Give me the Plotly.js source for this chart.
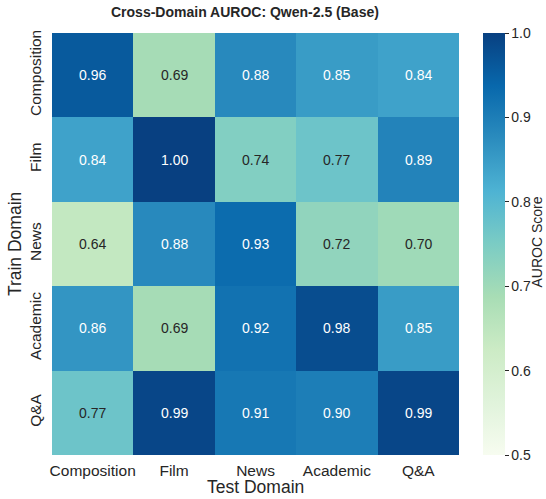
<!DOCTYPE html>
<html>
<head>
<meta charset="utf-8">
<script src="https://cdn.plot.ly/plotly-3.0.1.min.js"></script>
<style>html,body{margin:0;padding:0;background:#fff;}#chart{width:546px;height:499px;}</style>
</head>
<body>
<div id="chart"></div>
<script>
const testDomains = ["Composition", "Film", "News", "Academic", "Q&A"];
const trainDomains = ["Composition", "Film", "News", "Academic", "Q&A"];
const rowComposition = [0.96, 0.69, 0.88, 0.85, 0.84];
const rowFilm        = [0.84, 1.00, 0.74, 0.77, 0.89];
const rowNews        = [0.64, 0.88, 0.93, 0.72, 0.70];
const rowAcademic    = [0.86, 0.69, 0.92, 0.98, 0.85];
const rowQA          = [0.77, 0.99, 0.91, 0.90, 0.99];
const colorbarTicks = [0.5, 0.6, 0.7, 0.8, 0.9, 1.0];

const z = [rowComposition, rowFilm, rowNews, rowAcademic, rowQA];

const gnbu = ["#f7fcf0","#e0f3db","#ccebc5","#a8ddb5","#7bccc4","#4eb3d3","#2b8cbe","#0868ac","#084081"];
const colorscale = gnbu.map((c, i) => [i / (gnbu.length - 1), c]);

const font = "Liberation Sans, Arial, sans-serif";
const dark = "#262626";

const W = 546, H = 499;
const L = 52, R = 87.3, T = 32.7, B = 44;
const pw = W - L - R, ph = H - T - B;
const px = v => (v - L) / pw;          // pixel x -> paper
const py = v => 1 - (v - T) / ph;      // pixel y -> paper

const annotations = [];
z.forEach((row, i) => row.forEach((v, j) => {
  annotations.push({
    x: testDomains[j], y: trainDomains[i], xref: "x", yref: "y",
    text: v.toFixed(2), showarrow: false,
    font: {family: font, size: 14, color: v >= 0.8 ? "#ffffff" : dark}
  });
}));
annotations.push({
  text: "<b>Cross-Domain AUROC: Qwen-2.5 (Base)</b>", xref: "paper", yref: "paper",
  x: px(245), y: py(12), xanchor: "center", yanchor: "middle",
  showarrow: false, font: {family: font, size: 14, color: dark}
});
annotations.push({
  text: "Test Domain", xref: "paper", yref: "paper",
  x: px(255.5), y: py(487.5), xanchor: "center", yanchor: "middle",
  showarrow: false, font: {family: font, size: 17.5, color: dark}
});
annotations.push({
  text: "Train Domain", xref: "paper", yref: "paper", textangle: -90,
  x: px(15), y: py(244), xanchor: "center", yanchor: "middle",
  showarrow: false, font: {family: font, size: 17.5, color: dark}
});
annotations.push({
  text: "AUROC Score", xref: "paper", yref: "paper", textangle: -90,
  x: px(537), y: py(242), xanchor: "center", yanchor: "middle",
  showarrow: false, font: {family: font, size: 14, color: dark}
});

const trace = {
  type: "heatmap", x: testDomains, y: trainDomains, z: z,
  zmin: 0.5, zmax: 1.0, colorscale: colorscale, xgap: 0, ygap: 0,
  hoverinfo: "skip",
  colorbar: {
    x: px(483), xanchor: "left", xpad: 0, ypad: 0, y: 0.5, yanchor: "middle",
    len: 1, lenmode: "fraction", thickness: 22, thicknessmode: "pixels",
    outlinewidth: 0, tickvals: colorbarTicks, ticktext: colorbarTicks.map(t => t.toFixed(1)),
    ticks: "outside", ticklen: 4, tickwidth: 1, tickcolor: dark,
    tickfont: {family: font, size: 14, color: dark}
  }
};

const layout = {
  width: W, height: H,
  margin: {l: L, r: R, t: T, b: B, pad: 0, autoexpand: false},
  paper_bgcolor: "#ffffff", plot_bgcolor: "#ffffff",
  font: {family: font, color: dark},
  xaxis: {
    type: "category", showgrid: false, zeroline: false, showline: false, ticks: "",
    tickfont: {family: font, size: 15.5, color: dark}, automargin: false, ticklabelstandoff: 4
  },
  yaxis: {
    type: "category", autorange: "reversed", showgrid: false, zeroline: false, showline: false, ticks: "",
    tickangle: -90, tickfont: {family: font, size: 15.5, color: dark}, automargin: false, ticklabelstandoff: 7
  },
  annotations: annotations
};

Plotly.newPlot("chart", [trace], layout, {displayModeBar: false, staticPlot: true});
</script>
</body>
</html>
